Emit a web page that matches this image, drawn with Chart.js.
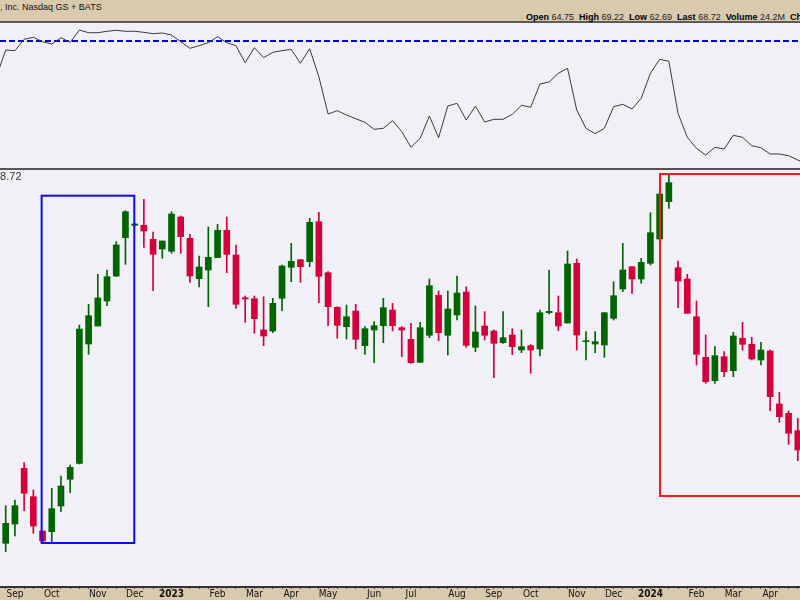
<!DOCTYPE html>
<html>
<head>
<meta charset="utf-8">
<script src="https://cdn.jsdelivr.net/npm/chart.js@4.4.1/dist/chart.umd.min.js"></script>
<style>
	body { margin: 0; width: 800px; height: 600px; overflow: hidden; position: relative; background: #f0f0f6; font-family: Arial, "Liberation Sans", sans-serif; }
	.abs { position: absolute; }
	#hdr { left: 0; top: 0; width: 800px; height: 21px; background: #d9c9ad; border-bottom: 2px solid #5a5a5a; }
	#title { left: 0; top: 2px; font-size: 9px; color: #111; white-space: nowrap; }
	#quote { left: 526px; top: 12px; font-size: 9px; color: #222; white-space: nowrap; }
	#quote b { color: #000; }
	#divider { left: 0; top: 168px; width: 800px; height: 2px; background: #555; }
	#lastLbl { left: -6px; top: 170px; font-size: 11px; color: #333; }
</style>
</head>
<body>
<div id="hdr" class="abs"></div>
<div id="title" class="abs">, Inc. Nasdaq GS + BATS</div>
<div id="quote" class="abs"><b>Open</b> 64.75&nbsp; <b>High</b> 69.22&nbsp; <b>Low</b> 62.69&nbsp; <b>Last</b> 68.72&nbsp; <b>Volume</b> 24.2M&nbsp; <b>Chg</b></div>
<canvas id="upper" class="abs" width="800" height="146" style="left:0;top:23px"></canvas>
<canvas id="main" class="abs" width="800" height="430" style="left:0;top:170px"></canvas>
<div id="divider" class="abs"></div>
<div id="lastLbl" class="abs">68.72</div>
<script>
// weekly candles, Aug 2022 .. Apr 2024
const opens = [34.17, 36.10, 41.67, 38.83, 35.40, 35.33, 37.90, 40.57, 42.17, 54.10,
	55.90, 58.40, 60.90, 64.73, 65.97, 65.97, 64.57, 63.60, 63.37, 66.80,
	64.67, 60.63, 61.50, 62.73, 65.47, 63.00, 58.73, 58.63, 55.50, 55.40,
	58.67, 61.77, 62.53, 62.33, 66.33, 61.23, 57.77, 55.83, 57.40, 53.93,
	55.50, 55.93, 57.50, 55.73, 54.57, 52.27, 54.97, 58.97, 54.97, 57.00,
	59.30, 53.77, 55.90, 55.40, 54.23, 55.00, 53.50, 53.93, 53.60, 57.23,
	57.23, 56.20, 62.17, 54.33, 54.10, 54.00, 56.67, 59.60, 61.83, 60.60,
	62.17, 64.60, 68.33, 61.73, 60.60, 56.83, 52.77, 50.43, 52.83, 51.43,
	54.67, 54.07, 52.50, 53.40, 48.10, 47.17, 45.43];
const highs = [37.93, 38.50, 42.23, 39.50, 35.40, 39.67, 40.90, 42.00, 56.00, 58.07,
	61.07, 61.50, 64.33, 67.43, 66.17, 68.57, 65.30, 64.40, 67.33, 66.90,
	65.07, 62.90, 65.80, 66.07, 66.80, 64.00, 58.90, 58.90, 58.83, 58.67,
	62.00, 64.17, 62.53, 66.67, 67.27, 61.33, 57.83, 58.00, 58.07, 55.83,
	56.33, 58.67, 58.17, 55.83, 56.17, 56.27, 60.60, 59.40, 59.40, 60.90,
	59.83, 57.90, 57.33, 55.50, 57.33, 55.63, 55.50, 54.03, 57.50, 61.50,
	58.90, 63.40, 62.60, 55.33, 55.33, 57.23, 60.33, 64.17, 61.83, 62.67,
	67.23, 69.40, 71.00, 62.40, 61.07, 58.40, 55.00, 53.83, 53.33, 55.27,
	56.27, 54.77, 54.27, 53.50, 49.27, 47.40, 46.67];
const lows = [33.33, 34.90, 37.43, 35.17, 34.33, 34.17, 37.33, 39.23, 42.10, 53.07,
	55.90, 57.93, 60.83, 62.07, 65.90, 63.77, 59.43, 62.67, 63.17, 63.17,
	60.27, 59.80, 57.83, 62.73, 61.23, 57.67, 56.27, 55.17, 53.93, 55.23,
	57.43, 60.33, 60.27, 61.83, 58.23, 55.93, 54.67, 54.60, 53.60, 53.07,
	52.23, 54.23, 55.40, 52.83, 52.17, 52.23, 54.73, 54.43, 53.00, 56.50,
	53.77, 53.33, 54.50, 50.73, 54.17, 53.03, 53.23, 51.17, 52.90, 57.10,
	55.43, 56.20, 53.50, 52.50, 53.23, 52.77, 56.50, 59.33, 59.17, 60.17,
	62.00, 64.40, 67.67, 57.73, 57.17, 52.00, 50.17, 50.17, 50.83, 50.83,
	53.50, 52.50, 52.00, 47.43, 46.27, 44.07, 42.43];
const closes = [36.17, 37.93, 39.17, 35.90, 34.40, 37.63, 39.90, 41.77, 55.60, 56.93,
	58.70, 60.83, 64.00, 67.33, 66.10, 65.40, 63.07, 64.40, 67.10, 64.83,
	60.90, 61.80, 62.77, 65.47, 63.07, 58.07, 58.60, 56.63, 54.90, 58.17,
	61.90, 62.37, 61.83, 66.27, 60.87, 57.83, 55.97, 56.83, 54.57, 55.63,
	55.93, 57.73, 55.93, 55.50, 52.23, 55.73, 59.93, 55.23, 57.60, 59.20,
	53.97, 55.30, 54.97, 54.17, 54.73, 53.83, 53.83, 53.50, 57.23, 57.37,
	55.90, 62.10, 55.00, 54.43, 54.33, 57.23, 58.93, 61.50, 60.60, 62.27,
	65.23, 69.10, 70.23, 60.40, 57.17, 53.07, 50.33, 52.93, 51.33, 54.90,
	54.07, 52.60, 53.50, 48.83, 46.83, 45.17, 43.50];

// upper indicator line, one value per week starting one week before the first candle
const rsLine = [9.26, 11.90, 11.83, 12.97, 13.17, 12.73, 12.50, 13.13, 12.67, 13.90,
	13.63, 13.63, 13.77, 13.87, 13.77, 13.77, 13.67, 13.53, 13.60, 13.40,
	12.73, 12.07, 12.33, 12.63, 13.23, 12.63, 12.33, 10.63, 12.13, 11.13,
	11.67, 11.83, 11.97, 10.57, 12.03, 9.23, 5.50, 5.83, 5.40, 5.03,
	4.67, 3.97, 4.07, 4.83, 3.75, 2.17, 3.07, 5.30, 3.13, 6.30,
	6.57, 4.90, 6.30, 4.70, 4.97, 4.97, 5.47, 6.37, 6.17, 8.50,
	8.70, 9.57, 10.07, 5.90, 4.07, 3.53, 4.07, 6.23, 6.47, 6.00,
	7.07, 9.57, 10.97, 10.77, 5.57, 3.17, 2.07, 1.40, 2.17, 2.00,
	3.37, 3.17, 2.33, 2.13, 1.50, 1.50, 1.33, 0.90, 0.50];
const rsLevel = 12.8;

// month labels on the week axis
const monthWeeks = [1, 5, 10, 14, 18, 23, 27, 31, 35, 40, 44, 49, 53, 57, 62, 66, 70, 75, 79, 83];
const monthNames = ["Sep", "Oct", "Nov", "Dec", "2023", "Feb", "Mar", "Apr", "May", "Jun",
	"Jul", "Aug", "Sep", "Oct", "Nov", "Dec", "2024", "Feb", "Mar", "Apr"];

// highlighted boxes (week from/to, price top/bottom)
const boxes = [
	{ from: 3.9, to: 13.96, top: 68.93, bottom: 34.2, color: "#0a0aff" },
	{ from: 71.04, to: 95, top: 71.1, bottom: 38.9, color: "#ee1c1c" }
];

const xMin = -0.62, xMax = 86.24;
const green = "#006400", red = "#d4003a";
const colors = opens.map((o, i) => closes[i] >= o ? green : red);

const boxPlugin = {
	id: "boxes",
	afterDatasetsDraw(chart) {
		const { ctx, scales: { x, y } } = chart;
		ctx.save();
		ctx.lineWidth = 2;
		boxes.forEach(b => {
			const x0 = x.getPixelForValue(b.from), x1 = x.getPixelForValue(b.to);
			const y0 = y.getPixelForValue(b.top), y1 = y.getPixelForValue(b.bottom);
			ctx.strokeStyle = b.color;
			ctx.strokeRect(x0, y0, x1 - x0, y1 - y0);
		});
		ctx.restore();
	}
};

const axisBand = {
	id: "axisBand",
	beforeDraw(chart) {
		const { ctx, chartArea } = chart;
		ctx.save();
		ctx.fillStyle = "#d9c9ad";
		ctx.fillRect(0, chartArea.bottom, chart.width, chart.height - chartArea.bottom);
		ctx.restore();
	}
};

new Chart(document.getElementById("main").getContext("2d"), {
	type: "bar",
	data: {
		datasets: [
			{
				data: opens.map((o, i) => ({ x: i, y: [o, closes[i]] })),
				backgroundColor: colors,
				barThickness: 6,
				grouped: false,
				borderWidth: 0
			},
			{
				data: lows.map((l, i) => ({ x: i, y: [l, highs[i]] })),
				backgroundColor: colors,
				barThickness: 1,
				grouped: false,
				borderWidth: 0
			}
		]
	},
	options: {
		responsive: false,
		animation: false,
		layout: { padding: 0, autoPadding: false },
		plugins: { legend: { display: false }, tooltip: { enabled: false } },
		scales: {
			x: {
				type: "linear",
				offset: false,
				min: xMin,
				max: xMax,
				afterFit: scale => {
					scale.height = 13;
					scale.paddingLeft = 0;
					scale.paddingRight = 0;
				},
				afterBuildTicks: scale => {
					const t = [];
					for (let i = 0; i <= 86; i++) t.push({ value: i });
					scale.ticks = t;
				},
				grid: { offset: false, drawOnChartArea: false, tickLength: 2, color: "#555" },
				border: { display: true, color: "#333", width: 2 },
				ticks: {
					autoSkip: false,
					maxRotation: 0,
					padding: -1,
					color: "#111",
					font: ctx => ({
						family: "'Liberation Sans Narrow', 'DejaVu Sans Condensed', Arial, sans-serif",
						size: 10,
						weight: /^\d{4}$/.test(ctx.tick && ctx.tick.label) ? "bold" : "normal"
					}),
					callback: v => {
						const k = monthWeeks.indexOf(v);
						return k >= 0 ? monthNames[k] : "";
					}
				}
			},
			y: { display: false, min: 29.8, max: 71.5 }
		}
	},
	plugins: [axisBand, boxPlugin]
});

new Chart(document.getElementById("upper").getContext("2d"), {
	type: "line",
	data: {
		datasets: [
			{
				data: rsLine.map((v, i) => ({ x: i - 1, y: v })),
				borderColor: "#3a3a3a",
				borderWidth: 1,
				pointRadius: 0,
				tension: 0
			},
			{
				data: [{ x: xMin, y: rsLevel }, { x: xMax, y: rsLevel }],
				borderColor: "#0000e6",
				borderWidth: 2,
				borderDash: [6, 3],
				pointRadius: 0
			}
		]
	},
	options: {
		responsive: false,
		animation: false,
		layout: { padding: 0, autoPadding: false },
		plugins: { legend: { display: false }, tooltip: { enabled: false } },
		scales: {
			x: { type: "linear", display: false, min: xMin, max: xMax },
			y: { display: false, min: 0, max: 14.6 }
		}
	}
});
</script>
</body>
</html>
